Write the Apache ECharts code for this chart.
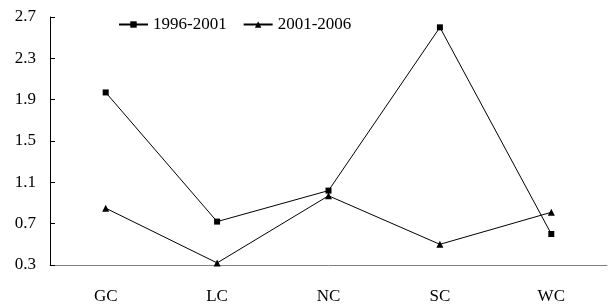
<!DOCTYPE html>
<html>
<head>
<meta charset="utf-8">
<script src="https://cdn.jsdelivr.net/npm/echarts@6/dist/echarts.min.js"></script>
<style>
  html, body { margin: 0; padding: 0; background: #fff; }
  #container { width: 612px; height: 307px; }
</style>
</head>
<body>
<div id="container"></div>
<script>
var regions = ["GC", "LC", "NC", "SC", "WC"];
var period1 = [1.97, 0.72, 1.02, 2.60, 0.60]; // 1996-2001
var period2 = [0.85, 0.32, 0.97, 0.50, 0.81]; // 2001-2006
var seriesNames = ["1996-2001", "2001-2006"];

var font = "'Liberation Serif', 'Times New Roman', serif";

var dom = document.getElementById("container");
var myChart = echarts.init(dom);

var option = {
  animation: false,
  backgroundColor: "#fff",
  textStyle: { fontFamily: font },
  legend: {
    left: 113,
    top: 11,
    itemWidth: 29,
    itemHeight: 8,
    itemGap: 16,
    textStyle: { fontFamily: font, fontSize: 17, color: "#000" },
    data: seriesNames
  },
  grid: { left: 50, right: 5, top: 17, bottom: 42, containLabel: false },
  xAxis: {
    type: "category",
    data: regions,
    boundaryGap: true,
    axisLine: { lineStyle: { color: "#808080", width: 1 } },
    axisTick: { inside: true, length: 7, lineStyle: { color: "#808080" } },
    axisLabel: { margin: 23, fontFamily: font, fontSize: 17, color: "#000" }
  },
  yAxis: {
    type: "value",
    min: 0.3,
    max: 2.7,
    interval: 0.4,
    splitLine: { show: false },
    axisLine: { show: true, lineStyle: { color: "#000", width: 1 } },
    axisTick: { show: true, inside: true, length: 5, lineStyle: { color: "#000" } },
    axisLabel: {
      margin: 14,
      fontFamily: font,
      fontSize: 17,
      color: "#000",
      formatter: function (v) { return v.toFixed(1); }
    }
  },
  series: [
    {
      name: seriesNames[0],
      type: "line",
      data: period1,
      symbol: "rect",
      symbolSize: 6,
      itemStyle: { color: "#000" },
      lineStyle: { color: "#000", width: 1 }
    },
    {
      name: seriesNames[1],
      type: "line",
      data: period2,
      symbol: "triangle",
      symbolSize: 7,
      itemStyle: { color: "#000" },
      lineStyle: { color: "#000", width: 1 }
    }
  ]
};

myChart.setOption(option, true);
</script>
</body>
</html>
